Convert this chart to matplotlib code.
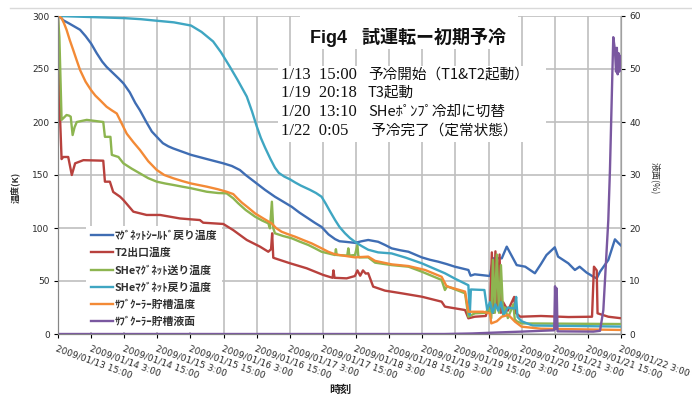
import matplotlib
matplotlib.use("Agg")
import matplotlib.pyplot as plt
from matplotlib.patches import Rectangle
from matplotlib.lines import Line2D

plt.rcParams['font.family'] = ['DejaVu Sans', 'Noto Sans CJK JP']
JP = ['Noto Sans CJK JP', 'DejaVu Sans']

# hours since 2009/01/13 15:00
xtick_hours = list(range(0, 205, 12))
xtick_labels = ['2009/01/13 15:00', '2009/01/14 3:00', '2009/01/14 15:00', '2009/01/15 3:00',
                '2009/01/15 15:00', '2009/01/16 3:00', '2009/01/16 15:00', '2009/01/17 3:00',
                '2009/01/17 15:00', '2009/01/18 3:00', '2009/01/18 15:00', '2009/01/19 3:00',
                '2009/01/19 15:00', '2009/01/20 3:00', '2009/01/20 15:00', '2009/01/21 3:00',
                '2009/01/21 15:00', '2009/01/22 3:00']

labels = ['ﾏｸﾞﾈｯﾄｼｰﾙﾄﾞ戻り温度', 'T2出口温度', 'SHeﾏｸﾞﾈｯﾄ送り温度',
          'SHeﾏｸﾞﾈｯﾄ戻り温度', 'ｻﾌﾞｸｰﾗｰ貯槽温度', 'ｻﾌﾞｸｰﾗｰ貯槽液面']
colors = ['#3F6DB3', '#B8413D', '#8DB550', '#3FA6C2', '#F38A36', '#7A58A0']

# (hour, K)
shield_ret = [(0, 300), (1, 298.5), (1.9, 296), (4, 293), (6, 290), (8, 287), (10, 281), (12, 274),
              (14, 265), (16, 257), (17.6, 252), (20, 246), (22, 241), (23.7, 236.5), (26, 228),
              (28, 218), (29.7, 211), (32, 200), (34, 191), (35.8, 186), (38, 180), (40, 177),
              (41.8, 175), (45, 172), (48.2, 169), (54, 165), (59.9, 161), (63, 158.5),
              (65.9, 154.7), (68, 150), (70, 146), (72, 142), (75, 136), (78.6, 129.5),
              (81.5, 125), (84.7, 120), (87.5, 114.5), (90.7, 109), (93, 105), (95.5, 101),
              (98, 94), (100.4, 89.5), (102, 87.5), (104, 87), (107.6, 86), (110, 87.5),
              (112.4, 88.7), (116, 87), (118.5, 84), (120.9, 80.8), (124, 79), (127, 77.6),
              (131.8, 72.3), (134.8, 70), (137.8, 68.2), (140.8, 66), (143.8, 63.5), (148.7, 60.4),
              (149.5, 55), (151, 56.3), (156.5, 54.7), (157.7, 71.4), (160.8, 71.4), (162.6, 82.4),
              (166.2, 65), (169.3, 63.5), (172.8, 57.3), (175, 66), (177, 74.5), (180, 81.8),
              (181.2, 73), (184.9, 66.7), (187.3, 60.4), (189, 63.5), (191.5, 58), (194, 54),
              (195.2, 52.5), (196.4, 58.8), (199.4, 69.8), (201.8, 89.3), (203, 86), (204.2, 83)]

t2_out = [(0, 300), (0.3, 250), (0.8, 200), (1.3, 165), (1.9, 167), (3.7, 167), (5.0, 150),
          (6.2, 161), (9.2, 164), (16.4, 163.5), (17.0, 143.7), (18.8, 143.7), (20, 134),
          (22.5, 129.5), (23.7, 126.4), (27.3, 115.4), (32.1, 112.3), (37, 112.3), (44.2, 109),
          (51.4, 107.5), (52.6, 105), (59.9, 103.8), (63.5, 98), (68.4, 88.7), (73.2, 82.4),
          (76.2, 77.6), (77.2, 80), (77.6, 95), (78.0, 72), (78.6, 71.4), (84.1, 66.7),
          (90.1, 62), (96.1, 55.7), (99.5, 53), (99.8, 60), (100.2, 53), (104.6, 52.5),
          (107.6, 54.7), (108.5, 60), (109.5, 55), (110.5, 60), (111.5, 57), (112.4, 57.3),
          (114.2, 44.7), (118.5, 40.9), (124.5, 38.4), (131.8, 35.2), (139, 30.5), (140.2, 25.8),
          (147.5, 22.6), (148.7, 14.8), (151, 16.3), (155, 17), (156, 25.8), (156.5, 20),
          (157.2, 77), (157.8, 20), (158.5, 78), (159.2, 25), (160, 75), (160.5, 20), (161.3, 30),
          (163, 22), (165.3, 35), (165.8, 20), (167.5, 16.3), (175, 17), (185, 16), (193.5, 16.3),
          (194.2, 63.5), (195.2, 60), (195.5, 19.5), (199.4, 16.3), (204.2, 14.8)]

she_send = [(0, 300), (0.5, 280), (1.3, 202), (3.1, 206.6), (4.0, 206), (4.6, 205), (5.3, 187.7),
            (6.0, 195), (6.8, 200), (10.4, 202), (16.4, 200), (17.0, 186), (19.0, 186), (19.5, 169),
            (21.9, 167), (23.7, 161), (26.7, 156), (29.7, 151.5), (32.7, 147), (35.8, 143.7),
            (38.8, 142), (41.8, 140.6), (45, 139), (48.2, 137.5), (53.9, 134.2), (58, 133),
            (61.1, 132.7), (63.5, 128), (65.3, 123.3), (68, 117), (71.4, 110.7), (74, 107),
            (76.2, 104.4), (76.8, 99.7), (77.5, 124.8), (78.0, 100), (78.6, 95), (81.5, 92.5),
            (84.7, 90.3), (87.7, 87), (90.7, 84), (93, 81), (95.5, 77.6), (100.4, 74.5),
            (100.7, 80), (101, 74.5), (104.8, 74), (105.2, 80.8), (105.6, 74), (107.6, 74.5),
            (108.5, 84), (108.8, 74), (109.2, 72.3), (112.4, 72.3), (114.9, 67.3), (120.9, 65),
            (127, 63.5), (131.8, 58.8), (139, 51), (140.2, 41.5), (141, 45), (147.5, 38.4),
            (148.7, 16.3), (151, 19.5), (155, 20), (156, 25), (157, 15), (157.6, 70), (158.3, 20),
            (159, 75), (159.8, 20), (160.5, 65), (161.3, 18), (162, 25), (163, 15), (165, 28),
            (165.5, 14), (166.2, 12), (168, 10), (204.2, 9.4)]

she_ret = [(0, 300), (12, 299), (24, 298), (30, 297), (35.9, 295.5), (42, 294), (48.2, 291),
           (52, 285), (56.2, 276), (59, 266), (62.3, 252), (65, 240), (68.4, 224), (70.3, 210),
           (72, 196), (73.5, 185), (75, 176), (77, 165), (78.6, 157), (80, 152), (82, 148.5),
           (84, 146), (85.9, 143), (88, 140), (91.3, 136), (93.5, 133), (95.5, 129.5), (97, 123),
           (98.5, 116), (100.4, 107.5), (102, 101), (104, 95), (105.8, 90.5), (107.6, 87),
           (110, 83), (112.4, 79.5), (116, 77), (120.9, 76), (126, 72), (131.8, 66.7), (136, 62),
           (140.2, 57.3), (144, 52), (148.7, 46), (149.2, 18), (149.6, 42), (154.5, 41.5),
           (155.5, 23), (156.5, 30), (157.5, 20), (158.5, 28), (159.5, 22), (160.5, 30),
           (161.5, 18), (163, 25), (165.5, 24), (166, 35), (166.5, 16), (168, 12), (172, 8),
           (204.2, 7)]

subcool_t = [(0, 300), (1.3, 298), (2.2, 293), (3.1, 287), (4.3, 277), (5.5, 268), (6.8, 258),
             (8, 249), (10, 238), (12, 230), (13.5, 225), (15.2, 220.7), (17.6, 214.4),
             (19.5, 211), (21.3, 208), (23, 199), (24.9, 189), (27.3, 181), (29.7, 173.6),
             (32.7, 163), (35.8, 154.7), (38.5, 150), (41.8, 146.9), (45, 144.3), (48.2, 142),
             (53.9, 139), (58, 136.5), (61.1, 134.2), (63.5, 132), (65, 128), (66.6, 124),
             (69, 119), (71.4, 113.8), (74.4, 109), (77.4, 104.4), (79, 100), (81, 96.5),
             (83.5, 94), (85.9, 91.8), (89, 88.5), (91.9, 85.5), (95, 81.5), (97.9, 77.6),
             (100, 75.5), (102, 74.5), (107.6, 72.3), (112.4, 73), (114.9, 69), (120.9, 65.7),
             (127, 64.1), (133, 60.4), (139, 54), (140.8, 45), (147.5, 40), (148.7, 21), (154, 21),
             (156.5, 19.5), (157, 10), (159, 12), (160.8, 16.3), (163.2, 18), (165.6, 11.6),
             (168, 6.9), (175, 5), (204.2, 3.8)]

# (hour, %)
subcool_level = [(0, 0), (140, 0), (150, 0.1), (160, 0.3), (168, 0.45), (179.8, 0.7), (180.1, 9),
                 (180.4, 1), (180.7, 8.6), (181.0, 0.5), (194, 0.45), (196.4, 0.6), (197.6, 4.5),
                 (199.4, 21.5), (200, 31), (201.2, 56), (201.8, 53.6), (202.2, 49.5), (202.5, 54),
                 (202.8, 49), (203.1, 53), (203.4, 49.5), (203.7, 52.5), (204, 50), (204.2, 51)]

event_times = ['1/13  15:00', '1/19  20:18', '1/20  13:10', '1/22  0:05']
event_texts = ['予冷開始（T1&T2起動）', 'T3起動', 'SHeﾎﾟﾝﾌﾟ冷却に切替', ' 予冷完了（定常状態）']

W, H = 692, 396
fig = plt.figure(figsize=(W / 100, H / 100), dpi=100)
ax = fig.add_axes([58 / W, 1 - 334 / H, 563 / W, 318 / H])
ax2 = ax.twinx()

temps = [shield_ret, t2_out, she_send, she_ret, subcool_t]
handles = []
for data, lab, c in zip(temps, labels[:5], colors[:5]):
    t, v = zip(*data)
    ln, = ax.plot(t, v, color=c, lw=1.7, label=lab, solid_joinstyle='round')
    handles.append(ln)
t, v = zip(*subcool_level)
ln, = ax2.plot(t, v, color=colors[5], lw=1.7, label=labels[5], solid_joinstyle='round')
handles.append(ln)

ax.set_xlim(0, 204)
ax.set_ylim(0, 300)
ax2.set_ylim(0, 60)
ax.set_yticks(range(0, 301, 50))
ax2.set_yticks(range(0, 61, 10))
ax.set_xticks(xtick_hours)
ax.set_xticklabels(xtick_labels, rotation=-20, ha='left', va='top', rotation_mode='anchor')

ax.grid(True, color='#BFBFBF', lw=1.2)
ax.set_axisbelow(True)
for a in (ax, ax2):
    a.spines['top'].set_visible(False)
    a.spines['left'].set_color('#868686')
    a.spines['right'].set_color('#A0A0A0')
    a.spines['bottom'].set_color('#868686')
ax.tick_params(axis='x', labelsize=6.5, length=3, pad=4, direction='out')
ax.tick_params(axis='y', labelsize=6.5, length=3, pad=3)
ax2.tick_params(axis='y', labelsize=6.5, length=3, pad=3)
for lab in ax.get_xticklabels() + ax.get_yticklabels() + ax2.get_yticklabels():
    lab.set_color('#2A2A2A')

fig.text(15 / W, 1 - 187 / H, '温度(K)', rotation=90, ha='center', va='center',
         fontsize=6.5, family=JP, fontweight='bold', color='#303030')
fig.text(655 / W, 1 - 178 / H, '液面(%)', rotation=-90, ha='center', va='center',
         fontsize=6.5, family=JP, color='#303030')
fig.text(340 / W, 1 - 389 / H, '時刻', ha='center', va='center',
         fontsize=8, family=JP, fontweight='bold', color='#202020')

leg = ax2.legend(handles=handles, loc='upper left', bbox_to_anchor=(0.05, 0.34),
                 prop=dict(family=JP, size=7.8, weight='bold'), frameon=True, facecolor='white',
                 edgecolor='none', framealpha=1, fancybox=False, handlelength=2.0,
                 handletextpad=0.2, labelspacing=0.62, borderpad=0.45, borderaxespad=0)
leg.set_zorder(10)
for tx in leg.get_texts():
    tx.set_color('#303030')

# top border line of the chart area
fig.add_artist(Line2D([10 / W, 1], [1 - 8 / H, 1 - 8 / H], color='#D9D9D9', lw=1))

# title and event notes with white backgrounds
fig.add_artist(Rectangle((300 / W, 1 - 49 / H), 218 / W, 33 / H, facecolor='white',
                         edgecolor='none', zorder=5))
fig.add_artist(Rectangle((278 / W, 1 - 142 / H), 268 / W, 76 / H, facecolor='white',
                         edgecolor='none', zorder=5))
fig.text(310 / W, 1 - 37 / H, 'Fig4   試運転ー初期予冷', ha='left', va='center', fontsize=13,
         fontweight='bold', family=['Liberation Sans', 'Noto Sans CJK JP'], color='#111111',
         zorder=6)
ys = [75, 93, 112, 131]
for yy, tm, desc in zip(ys, event_times, event_texts):
    fig.text(281 / W, 1 - yy / H, tm, ha='left', va='center', fontsize=12,
             family=['Liberation Serif'], color='#111111', zorder=6)
    fig.text(368 / W, 1 - yy / H, desc, ha='left', va='center', fontsize=10.5,
             family=JP, color='#111111', zorder=6)

fig.savefig('out.png', dpi=100)
